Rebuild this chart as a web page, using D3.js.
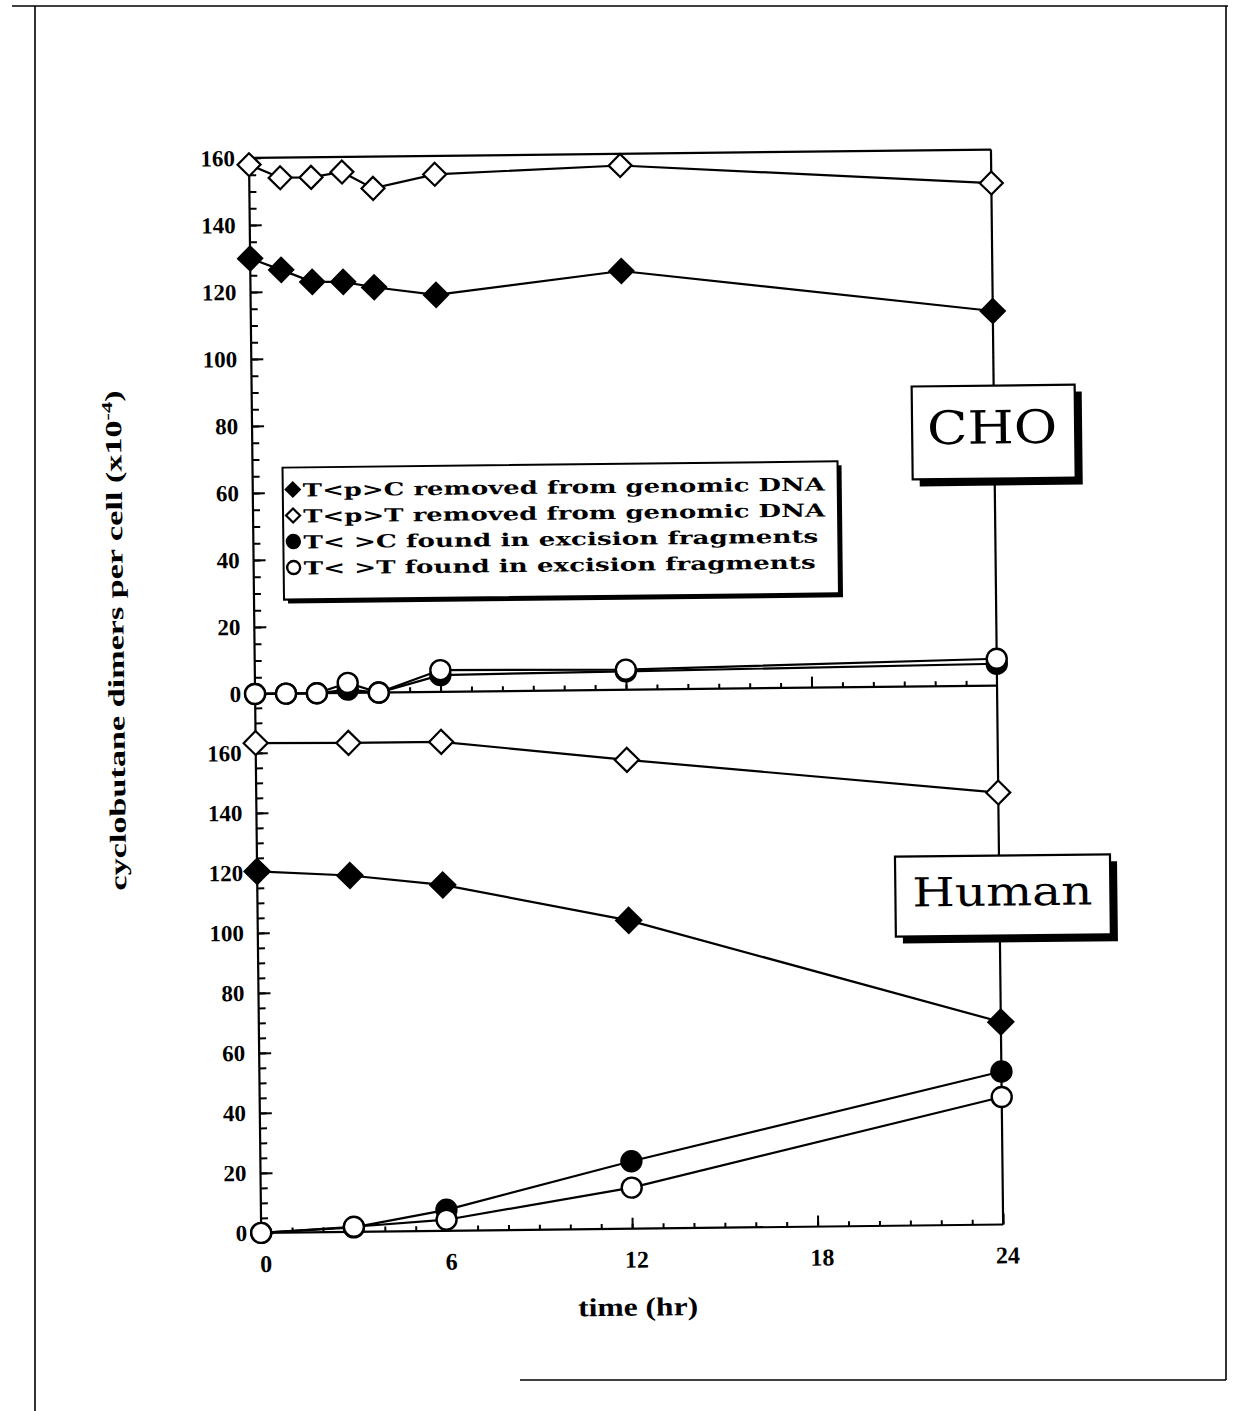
<!DOCTYPE html>
<html><head><meta charset="utf-8">
<script src="https://cdn.jsdelivr.net/npm/d3@7"></script>
<style>body{margin:0;background:#fff}</style>
</head><body>
<script>
// ---- data ----
const hoursCHO = [0, 1, 2, 3, 4, 6, 12, 24];
const choTpC = [130, 126.5, 122.8, 122.7, 121, 118.5, 125, 111.8];
const choTpT = [158, 154, 154, 155.5, 150.5, 154.5, 156.5, 150];
const choTC  = [0, 0, 0, 1, 0, 5, 5.5, 6.5];
const choTT  = [0, 0, 0, 3, 0, 6.5, 6, 8];
const hoursHuman = [0, 3, 6, 12, 24];
const humanTpC = [120.5, 118.8, 115.3, 102.8, 67.5];
const humanTpT = [163.3, 163, 163, 156.3, 144];
const humanTC  = [0, 1.5, 7, 22.5, 51];
const humanTT  = [0, 1.7, 3.7, 13.7, 42.5];
const xTickLabels = [0, 6, 12, 18, 24];
const yTickLabels = [0, 20, 40, 60, 80, 100, 120, 140, 160];
const legendLabels = ["T<p>C removed from genomic DNA", "T<p>T removed from genomic DNA",
                      "T< >C found in excision fragments", "T< >T found in excision fragments"];
const legendShapes = ["diamondFilled", "diamondOpen", "circleFilled", "circleOpen"];
const yTitle = "cyclobutane dimers per cell (x10";
const xTitle = "time (hr)";

const W = 1235, H = 1411;
const svg = d3.select("body").append("svg").attr("width", W).attr("height", H);
svg.append("rect").attr("width", W).attr("height", H).attr("fill", "#fff");

// page frame
const frame = svg.append("g").attr("stroke", "#000").attr("stroke-width", 1.6);
frame.append("line").attr("x1", 12).attr("y1", 6).attr("x2", 1228).attr("y2", 6);
frame.append("line").attr("x1", 35).attr("y1", 6).attr("x2", 35).attr("y2", 1411);
frame.append("line").attr("x1", 1226).attr("y1", 6).attr("x2", 1226).attr("y2", 1380);
frame.append("line").attr("x1", 520).attr("y1", 1380).attr("x2", 1226).attr("y2", 1380);

const g = svg.append("g").attr("transform", "rotate(-0.65,248,158)");

const x = d3.scaleLinear().domain([0, 24]).range([249, 991]);
const yTop = d3.scaleLinear().domain([0, 160]).range([694, 158]);
const yBot = d3.scaleLinear().domain([0, 160]).range([1233, 753]);

const tickFont = "bold 23px 'Liberation Serif', serif";

function yAxes(scale, maxMinor) {
  const minor = g.append("g").attr("transform", `translate(${x(0)},0)`)
    .call(d3.axisLeft(scale).tickValues(d3.range(0, maxMinor + 1, 5)).tickSize(-7).tickFormat(""));
  minor.select(".domain").remove();
  const major = g.append("g").attr("transform", `translate(${x(0)},0)`)
    .call(d3.axisLeft(scale).tickValues(yTickLabels).tickSize(-12).tickPadding(14));
  major.select(".domain").remove();
  [minor, major].forEach(a => a.selectAll("line").attr("stroke", "#000").attr("stroke-width", 2));
  major.selectAll("text").style("font", tickFont).attr("fill", "#000");
}
yAxes(yTop, 160);
yAxes(yBot, 175);

function xAxes(y0, labels) {
  const minor = g.append("g").attr("transform", `translate(0,${y0})`)
    .call(d3.axisBottom(x).tickValues(d3.range(1, 24, 1)).tickSize(-5).tickFormat(""));
  minor.select(".domain").remove();
  const major = g.append("g").attr("transform", `translate(0,${y0})`)
    .call(d3.axisBottom(x).tickValues(labels ? xTickLabels : [6, 12, 18]).tickSize(-11).tickPadding(22)
      .tickFormat(labels ? d3.format("d") : ""));
  major.select(".domain").remove();
  [minor, major].forEach(a => a.selectAll("line").attr("stroke", "#000").attr("stroke-width", 2));
  major.selectAll("text").style("font", "bold 24px 'Liberation Serif', serif").attr("fill", "#000").attr("dx", 4);
}
xAxes(yTop(0), false);
xAxes(yBot(0), true);

// frame lines of panels
const pf = g.append("g").attr("stroke", "#000").attr("stroke-width", 2.2);
pf.append("line").attr("x1", x(0)).attr("x2", x(0)).attr("y1", yTop(160)).attr("y2", yBot(0));
pf.append("line").attr("x1", x(24)).attr("x2", x(24)).attr("y1", yTop(160)).attr("y2", yBot(0));
pf.append("line").attr("x1", x(0)).attr("x2", x(24)).attr("y1", yTop(160)).attr("y2", yTop(160));
pf.append("line").attr("x1", x(0)).attr("x2", x(24)).attr("y1", yTop(0)).attr("y2", yTop(0));
pf.append("line").attr("x1", x(0)).attr("x2", x(24)).attr("y1", yBot(0)).attr("y2", yBot(0));

// label boxes (drawn over right border line)
function labelBox(bx, by, bw, bh, txt, size, tx, ty, tl) {
  g.append("rect").attr("x", bx + 7).attr("y", by + 7).attr("width", bw).attr("height", bh).attr("fill", "#000");
  g.append("rect").attr("x", bx).attr("y", by).attr("width", bw).attr("height", bh)
    .attr("fill", "#fff").attr("stroke", "#000").attr("stroke-width", 2.2);
  g.append("text").attr("x", tx).attr("y", ty).attr("text-anchor", "middle")
    .attr("textLength", tl).attr("lengthAdjust", "spacingAndGlyphs")
    .style("font", `${size}px 'DejaVu Serif', serif`).attr("fill", "#000").text(txt);
}
labelBox(909, 394, 163, 93, "CHO", 46, 989, 452, 130);
labelBox(887, 864, 215, 80, "Human", 40, 994, 914, 180);

// series
function marker(sel, shape, cx, cy, s) {
  if (shape.startsWith("diamond")) {
    sel.append("path").attr("d", `M${cx},${cy - s}L${cx + s},${cy}L${cx},${cy + s}L${cx - s},${cy}Z`)
      .attr("fill", shape === "diamondFilled" ? "#000" : "#fff").attr("stroke", "#000").attr("stroke-width", 2.2);
  } else {
    sel.append("circle").attr("cx", cx).attr("cy", cy).attr("r", s)
      .attr("fill", shape === "circleFilled" ? "#000" : "#fff").attr("stroke", "#000").attr("stroke-width", 2.4);
  }
}
function series(hours, vals, yS, shape, size) {
  const line = d3.line().x((d, i) => x(hours[i])).y(d => yS(d));
  g.append("path").datum(vals).attr("d", line).attr("fill", "none").attr("stroke", "#000").attr("stroke-width", 2.2);
  const mg = g.append("g");
  vals.forEach((v, i) => marker(mg, shape, x(hours[i]), yS(v), size));
}
series(hoursCHO, choTpT, yTop, "diamondOpen", 11.5);
series(hoursCHO, choTpC, yTop, "diamondFilled", 12);
series(hoursCHO, choTC, yTop, "circleFilled", 10);
series(hoursCHO, choTT, yTop, "circleOpen", 10);
series(hoursHuman, humanTpT, yBot, "diamondOpen", 12);
series(hoursHuman, humanTpC, yBot, "diamondFilled", 12.5);
series(hoursHuman, humanTC, yBot, "circleFilled", 10);
series(hoursHuman, humanTT, yBot, "circleOpen", 10);

// legend
const lg = g.append("g");
lg.append("rect").attr("x", 283).attr("y", 472).attr("width", 555).attr("height", 132).attr("fill", "#000");
lg.append("rect").attr("x", 279).attr("y", 468).attr("width", 555).attr("height", 132)
  .attr("fill", "#fff").attr("stroke", "#000").attr("stroke-width", 2);
const legendY = d3.scalePoint().domain(legendLabels).range([490, 568]);
const legendLen = [522, 522, 515, 512];
legendLabels.forEach((lab, i) => {
  const cy = legendY(lab);
  marker(lg, legendShapes[i], 289, cy, legendShapes[i].startsWith("diamond") ? 7 : 6.5);
  lg.append("text").attr("x", 299).attr("y", cy + 7)
    .attr("textLength", legendLen[i]).attr("lengthAdjust", "spacingAndGlyphs")
    .style("font", "bold 18px 'DejaVu Serif', serif").attr("fill", "#000").text(lab);
});

// axis titles
const yt = g.append("text").attr("transform", "translate(118,639) rotate(-90)")
  .attr("text-anchor", "middle").attr("textLength", 500).attr("lengthAdjust", "spacingAndGlyphs")
  .style("font", "bold 23px 'Liberation Serif', serif").attr("fill", "#000");
yt.append("tspan").text(yTitle);
yt.append("tspan").attr("dy", -9).style("font-size", "15px").text("-4");
yt.append("tspan").attr("dy", 9).text(")");

g.append("text").attr("x", x(12) + 5).attr("y", 1320).attr("text-anchor", "middle")
  .attr("textLength", 120).attr("lengthAdjust", "spacingAndGlyphs")
  .style("font", "bold 26px 'Liberation Serif', serif").attr("fill", "#000").text(xTitle);
</script>
</body></html>
